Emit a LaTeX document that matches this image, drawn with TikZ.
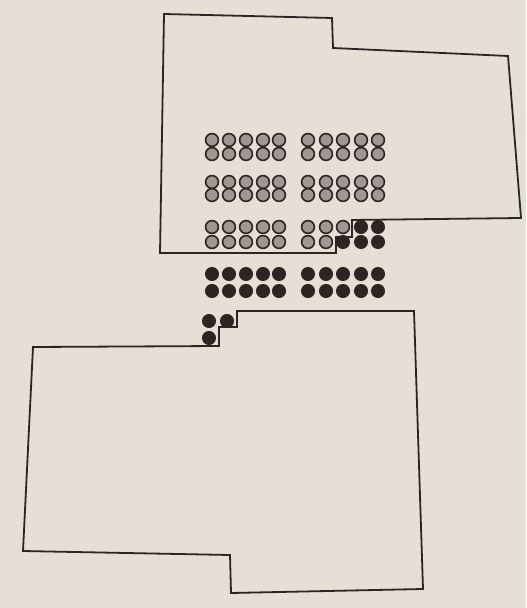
\documentclass[tikz,border=0pt]{standalone}
\usepackage{tikz}
\definecolor{Paper}{HTML}{E6DFD6}
\definecolor{Ink}{HTML}{2B2624}
\definecolor{Pin}{HTML}{9D9892}

\begin{document}
\begin{tikzpicture}[
  x=0.5pt,y=-0.5pt,
  outline/.style={draw=Ink,line width=0.9pt,line join=miter},
  greypin/.style={draw=Ink,fill=Pin,line width=0.8pt},
  blackpin/.style={draw=Ink,fill=Ink,line width=0.6pt}
]
\fill[Paper] (0,0) rectangle (526,608);
% upper plate
\draw[outline] (164,14) -- (332,18) -- (333,48) -- (508,56) -- (521,218)
  -- (352,220) -- (352,237) -- (336,237) -- (336,253) -- (160,253) -- cycle;
% lower plate
\draw[outline] (237,311) -- (414,311) -- (423,589) -- (231,593) -- (230,555)
  -- (23,551) -- (33,347) -- (219,346) -- (219,327) -- (237,327) -- cycle;
% grey pins, left block
\foreach \y in {140,154,182,195,227,242}
  \foreach \x in {212,229,246,263,279}
    \draw[greypin] (\x,\y) circle[radius=3.2pt];
% grey pins, right block
\foreach \y in {140,154,182,195}
  \foreach \x in {308,326,343,361,378}
    \draw[greypin] (\x,\y) circle[radius=3.2pt];
\foreach \x in {308,326,343}
  \draw[greypin] (\x,227) circle[radius=3.2pt];
\foreach \x in {308,326}
  \draw[greypin] (\x,242) circle[radius=3.2pt];
% black pins
\foreach \x in {361,378}
  \draw[blackpin] (\x,227) circle[radius=3.2pt];
\foreach \x in {343,361,378}
  \draw[blackpin] (\x,242) circle[radius=3.2pt];
\foreach \y in {274,291}
  \foreach \x in {212,229,246,263,279,308,326,343,361,378}
    \draw[blackpin] (\x,\y) circle[radius=3.2pt];
\foreach \x/\y in {209/321,227/321,209/338}
  \draw[blackpin] (\x,\y) circle[radius=3.2pt];
\end{tikzpicture}
\end{document}
